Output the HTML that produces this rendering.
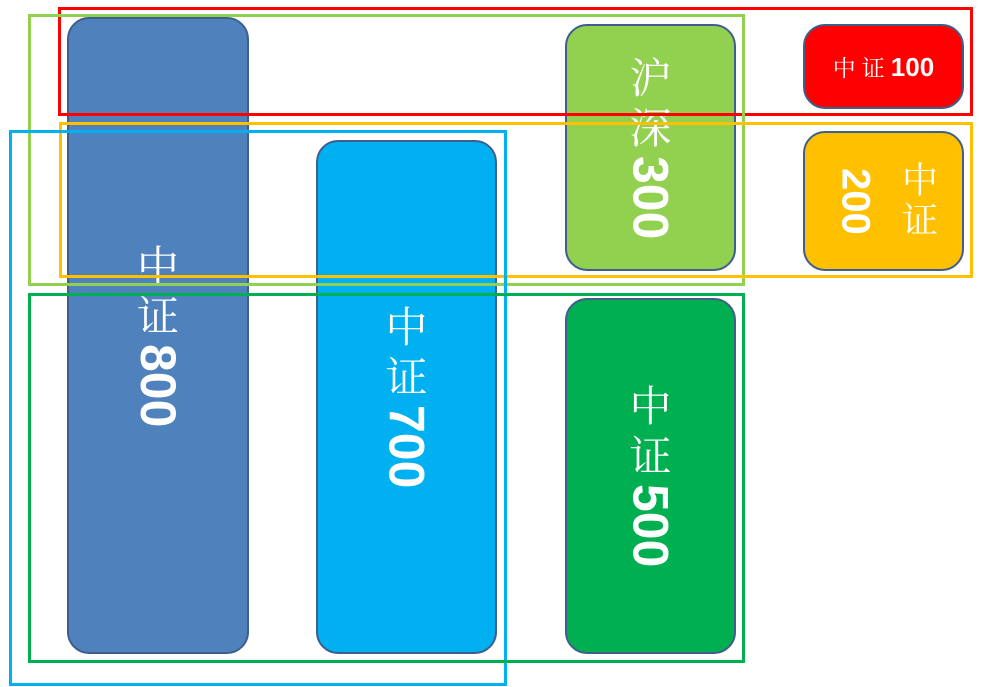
<!DOCTYPE html>
<html><head><meta charset="utf-8"><style>
body{margin:0;width:981px;height:687px;background:#fff;position:relative;overflow:hidden}
.b{position:absolute;box-sizing:border-box;border:2.5px solid #3f5e8c;border-radius:22px;display:flex;align-items:center;justify-content:center;color:#fff}
.f{position:absolute;box-sizing:border-box;border:3px solid}
.v{writing-mode:vertical-rl;text-orientation:mixed;white-space:nowrap;line-height:1}
.c{font-family:"Noto Serif CJK SC","WenQuanYi Zen Hei",serif;letter-spacing:8px}
.n{font-family:"Liberation Sans",sans-serif;font-weight:bold}
</style></head><body>
<div class="b" style="left:67px;top:17px;width:182px;height:637px;background:#4f81bd"><div class="v"><span class="c" style="font-size:42px">中证</span><span class="n" style="font-size:50px">800</span></div></div>
<div class="b" style="left:316px;top:140px;width:181px;height:514px;background:#00b0f0"><div class="v"><span class="c" style="font-size:42px">中证</span><span class="n" style="font-size:50px">700</span></div></div>
<div class="b" style="left:565px;top:24px;width:171px;height:247px;background:#92d050"><div class="v"><span class="c" style="font-size:42px">沪深</span><span class="n" style="font-size:50px">300</span></div></div>
<div class="b" style="left:565px;top:298px;width:171px;height:356px;background:#00b050"><div class="v"><span class="c" style="font-size:42px">中证</span><span class="n" style="font-size:50px">500</span></div></div>
<div class="b" style="left:803px;top:24px;width:161px;height:85px;background:#ff0000"><div style="white-space:nowrap"><span class="c" style="font-size:23px;letter-spacing:6px">中证</span><span class="n" style="font-size:26px">100</span></div></div>
<div class="b" style="left:803px;top:131px;width:161px;height:140px;background:#ffc000"><div style="display:flex;gap:26px;align-items:center;margin-left:6px">
<div class="v n" style="font-size:40px">200</div>
<div class="v c" style="font-size:36px;letter-spacing:4px">中证</div></div></div>
<div class="f" style="left:58px;top:7px;width:915px;height:109px;border-color:#ff0000"></div>
<div class="f" style="left:28px;top:14px;width:717px;height:272px;border-color:#92d050"></div>
<div class="f" style="left:59px;top:122px;width:914px;height:156px;border-color:#ffc000"></div>
<div class="f" style="left:9px;top:130px;width:498px;height:556px;border-color:#00b0f0"></div>
<div class="f" style="left:28px;top:293px;width:717px;height:370px;border-color:#00b050"></div>
</body></html>
